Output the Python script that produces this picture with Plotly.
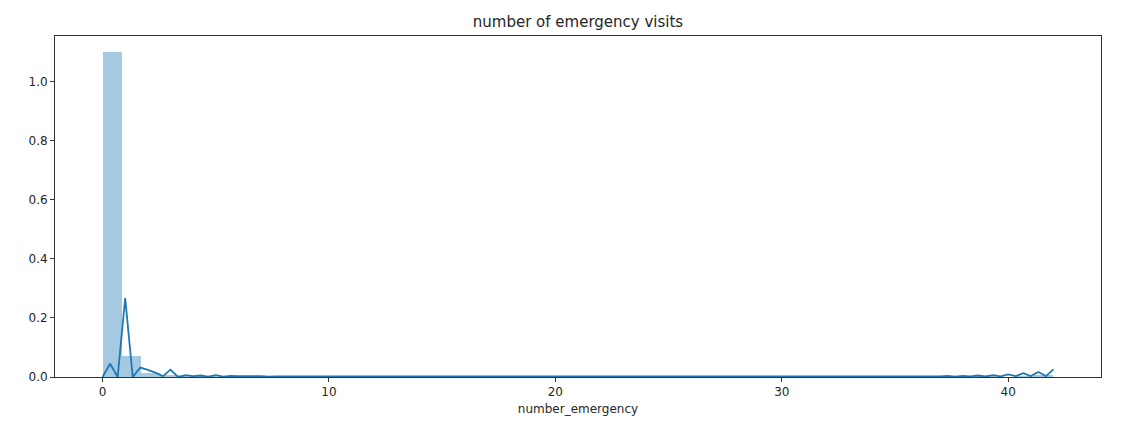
import numpy as np
import plotly.graph_objects as go

# Histogram (density) heights for 50 equal-width bins over 0..42
hist_heights = [
    1.100, 0.070, 0.013, 0.006, 0.003, 0.002, 0.000, 0.001, 0.001, 0.001,
    0.0008, 0.0006, 0.000, 0.0005, 0.0004, 0.0004, 0.0003, 0.000, 0.0003, 0.0003,
    0.0002, 0.0002, 0.000, 0.0002, 0.0002, 0.0002, 0.0002, 0.000, 0.0002, 0.0002,
    0.0002, 0.0002, 0.000, 0.0002, 0.0002, 0.0002, 0.0002, 0.000, 0.0003, 0.0003,
    0.0003, 0.0004, 0.000, 0.0005, 0.0006, 0.0008, 0.001, 0.000, 0.002, 0.004,
]
hist_min, hist_max = 0, 42

# KDE curve values on a 127-point grid from 0 to 42
kde_values = [
    0.000, 0.045, 0.000, 0.267, 0.000, 0.032, 0.024, 0.015, 0.003, 0.025,
    0.000, 0.006, 0.003, 0.005, 0.001, 0.006, 0.001, 0.004, 0.003, 0.002,
    0.003, 0.003, 0.001, 0.002, 0.002, 0.001, 0.002, 0.002, 0.001, 0.002,
    0.002, 0.001, 0.0015, 0.001, 0.0015, 0.001, 0.0015, 0.001, 0.001, 0.0015,
    0.001, 0.001, 0.0015, 0.001, 0.001, 0.001, 0.0015, 0.001, 0.001, 0.001,
    0.001, 0.001, 0.001, 0.001, 0.001, 0.001, 0.001, 0.001, 0.001, 0.001,
    0.001, 0.001, 0.001, 0.001, 0.001, 0.001, 0.001, 0.001, 0.001, 0.001,
    0.001, 0.001, 0.001, 0.001, 0.001, 0.001, 0.001, 0.001, 0.001, 0.001,
    0.001, 0.001, 0.001, 0.001, 0.001, 0.001, 0.001, 0.001, 0.001, 0.001,
    0.001, 0.001, 0.0015, 0.001, 0.001, 0.0015, 0.001, 0.0015, 0.001, 0.0015,
    0.001, 0.002, 0.001, 0.002, 0.001, 0.002, 0.002, 0.001, 0.003, 0.001,
    0.003, 0.002, 0.004, 0.001, 0.004, 0.002, 0.005, 0.002, 0.006, 0.002,
    0.009, 0.003, 0.013, 0.003, 0.017, 0.003, 0.026,
]

x_ticks = [0, 10, 20, 30, 40]
y_ticks = [0.0, 0.2, 0.4, 0.6, 0.8, 1.0]
title_text = "number of emergency visits"
x_label = "number_emergency"

edges = np.linspace(hist_min, hist_max, len(hist_heights) + 1)
bin_w = edges[1] - edges[0]
kde_x = np.linspace(hist_min, hist_max, len(kde_values))

blue = "#1f77b4"
font = "DejaVu Sans, Liberation Sans, sans-serif"

fig = go.Figure()
fig.add_trace(go.Bar(
    x=edges[:-1], y=hist_heights, width=bin_w, offset=0,
    marker=dict(color=blue, opacity=0.4, line=dict(width=0)),
    hoverinfo="skip", showlegend=False,
))
fig.add_trace(go.Scatter(
    x=kde_x, y=kde_values, mode="lines",
    line=dict(color=blue, width=1.8), showlegend=False,
))

fig.update_layout(
    width=1133, height=432,
    margin=dict(l=55, r=32, t=36, b=55),
    plot_bgcolor="white", paper_bgcolor="white",
    bargap=0,
    font=dict(family=font, size=12, color="#262626"),
    title=dict(text=title_text, x=0.5, xref="paper", xanchor="center",
               y=1 - 22 / 432, yref="container", yanchor="middle",
               font=dict(size=15, color="#262626")),
)
fig.update_xaxes(
    range=[-2.1, 44.1], tickvals=x_ticks, ticktext=[str(v) for v in x_ticks],
    showline=True, linecolor="#333333", linewidth=1, mirror=True,
    ticks="outside", ticklen=4, tickcolor="#333333", showgrid=False, zeroline=False,
    title=dict(text=x_label, standoff=6, font=dict(size=12)),
    tickfont=dict(size=12),
)
fig.update_yaxes(
    range=[0, 1.155], tickvals=y_ticks, ticktext=[f"{v:.1f}" for v in y_ticks],
    showline=True, linecolor="#333333", linewidth=1, mirror=True,
    ticks="outside", ticklen=4, tickcolor="#333333", showgrid=False, zeroline=False,
    tickfont=dict(size=12),
)

fig.write_html("out.html")
